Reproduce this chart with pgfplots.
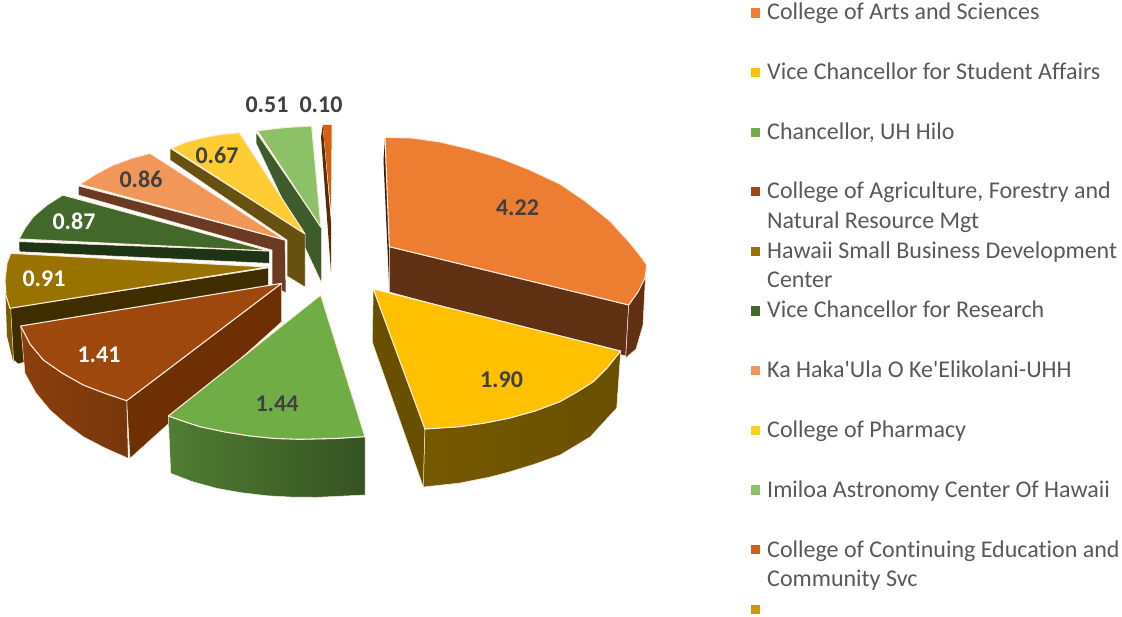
\documentclass[border=0pt]{standalone}
\usepackage{fontspec}
\setmainfont{Carlito}
\newfontfamily\keyfont{Carlito}[Ligatures=NoCommon]
\usepackage{pgfplots}
\pgfplotsset{compat=1.18}

\definecolor{cOrange}{HTML}{ED7D31}
\definecolor{wOrange}{HTML}{5F3012}
\definecolor{cYellow}{HTML}{FFC000}
\definecolor{wYellow}{HTML}{695000}
\definecolor{cGreen}{HTML}{70AD47}
\definecolor{cBrown}{HTML}{9E480E}
\definecolor{wBrown}{HTML}{6E2F05}
\definecolor{cOlive}{HTML}{997300}
\definecolor{wOlive}{HTML}{3F2D00}
\definecolor{cDark}{HTML}{43682B}
\definecolor{wDark}{HTML}{1F3315}
\definecolor{cSalmon}{HTML}{F1975A}
\definecolor{wSalmon}{HTML}{6B3A22}
\definecolor{cGold}{HTML}{FFCD33}
\definecolor{wGold}{HTML}{665110}
\definecolor{cLight}{HTML}{8CC168}
\definecolor{wLight}{HTML}{3E5C2B}
\definecolor{cRust}{HTML}{D26012}
\definecolor{wRust}{HTML}{5E2A06}
\definecolor{cMust}{HTML}{CC9A00}
\definecolor{edge}{HTML}{FBEBDC}
\definecolor{txt}{HTML}{595959}
\definecolor{lab}{HTML}{404040}

\tikzset{
    top/.style={draw=edge, line width=1.1pt, line join=round},
    wall/.style={draw=edge, line width=0.5pt, line join=round},
    key/.style={only marks, mark=square*, mark size=4.2pt},
    lbl/.style={anchor=base west, text=txt, font=\keyfont\fontsize{24}{28}\selectfont, inner sep=0pt},
}

\pgfplotstableread{
x y v
517.5 208 4.22
501.5 380 1.90
277 404 1.44
141 179 0.86
217 155 0.67
267 105 0.51
321 105 0.10
}\darklabels
\pgfplotstableread{
x y v
99 355 1.41
44 279 0.91
74 221 0.87
}\whitelabels

\begin{document}
\begin{tikzpicture}
\begin{axis}[
    scale only axis,
    width=1122pt, height=617pt,
    xmin=0, xmax=1122,
    ymin=0, ymax=617,
    y dir=reverse,
    hide axis,
    clip=false,
]
% page extent
\addplot[draw=none, fill=white] coordinates {(0,0) (1122,0) (1122,617) (0,617)} --cycle;

% rust 0.10
\addplot[draw=none, fill=wRust] coordinates {(321,137) (331,272) (331,222) (322.7,126)} --cycle;
\addplot[draw=none, fill=cRust] coordinates {(322.7,125) (331.7,125) (331,210)} --cycle;
% light green 0.51
\addplot[wall, fill=wLight] coordinates {(256,132) (256,143) (321.7,283) (321.7,228)} --cycle;
\addplot[top, fill=cLight] coordinates {(257.3,130.7) (285,127.5) (311.7,126) (321,227.3)} --cycle;
% gold 0.67
\addplot[wall, fill=wGold] coordinates {(170,148.3) (170,160) (287,240) (287,276) (305,287) (305,234)} --cycle;
\addplot[top, fill=cGold] coordinates {(171.7,148.3) (185,142.5) (200,138.5) (220,134.5) (239.3,132.7) (305,234)} --cycle;
% salmon 0.86
\addplot[wall, fill=wSalmon] coordinates {(78.3,186) (78.3,195) (272,250) (272,285) (286,293) (285,240)} --cycle;
\addplot[top, fill=cSalmon] coordinates {(80,184.3) (96,174) (113.3,165) (131,158.5) (150,153.3) (285,240)} --cycle;
% dark green 0.87
\addplot[wall, fill=wDark] coordinates {(19,241.7) (19.3,251.7) (269.3,263.3) (269.3,251)} --cycle;
\addplot[top, fill=cDark] coordinates {(19,239) (25,228) (33.3,216.7) (47,205) (62.7,195) (269.3,251)} --cycle;
% olive 0.91
\addplot[draw=none, fill=cOlive!80!black] coordinates {(5,280) (7,336) (13.3,362) (12,308)} --cycle;
\addplot[wall, fill=wOlive] coordinates {(10.7,308) (13.5,360) (18,364) (268.3,290) (268.3,268)} --cycle;
\addplot[top, fill=cOlive] coordinates {(10.7,253.3) (7,263) (5,280) (6,296) (10,308.3) (268.3,267)} --cycle;
% brown 1.41
\addplot[wall, fill=wBrown] coordinates {(281.7,283.3) (281.7,321.7) (130,458.3) (126.7,400.7)} --cycle;
\addplot[wall, left color=cBrown!88!black, right color=cBrown!75!black] coordinates {(20.7,326) (25,373.3) (36,393) (50,410) (66,424) (83.3,436.7) (105,448) (128.3,458.3) (126.7,400.7) (104,393) (83.3,385) (62,373) (43.3,360) (30,344)} --cycle;
\addplot[top, fill=cBrown] coordinates {(281.7,283.3) (20.7,326) (30,344) (43.3,360) (62,373) (83.3,385) (104,393) (126.7,400.7)} --cycle;
% green 1.44
\addplot[wall, left color=cGreen!72!black, right color=cGreen!48!black] coordinates {(168.3,416) (170.7,473.3) (192,481.5) (216.7,488.3) (240,492.5) (266.7,495.7) (290,497) (316.7,497.3) (365,495) (365,436.7) (335,438.5) (300,439.3) (275,438.5) (250,436) (225,432) (200,426.7) (184,421.5)} --cycle;
\addplot[top, fill=cGreen] coordinates {(320.7,295) (365,436.7) (335,438.5) (300,439.3) (275,438.5) (250,436) (225,432) (200,426.7) (184,421.5) (168.3,416)} --cycle;
% orange 4.22
\addplot[draw=none, fill=wRust!70!black] coordinates {(385,137.5) (383.5,160) (389.3,290) (389.3,247)} --cycle;
\addplot[wall, fill=wOrange] coordinates {(389.3,246.7) (389.3,292) (625.7,356) (628.7,305)} --cycle;
\addplot[wall, fill=wOrange] coordinates {(628.7,305) (625.7,358) (636,349) (643,325) (645,285) (646.7,265)} --cycle;
\addplot[top, fill=cOrange] coordinates {(385,137.3) (412,138) (440,142) (470,149) (500,158) (530,170) (560,184) (585,201) (610,221) (630,243) (642,258) (646.7,265) (645,278) (638,292) (628.7,305) (389.3,246.7)} --cycle;
% yellow 1.90
\addplot[wall, fill=wYellow] coordinates {(373.3,289) (372.3,342) (423.3,487) (425,429)} --cycle;
\addplot[wall, left color=wYellow!75!cOlive, right color=wYellow] coordinates {(425,429) (423.3,487) (460,483) (490,477) (510,471.7) (535,464) (560,455) (590,437) (616.7,408) (620.7,351) (607,368) (593.3,381.7) (577,392) (560,401.7) (535,411) (510,418) (485,423) (460,426.7)} --cycle;
\addplot[top, fill=cYellow] coordinates {(373.3,289) (620.7,351) (607,368) (593.3,381.7) (577,392) (560,401.7) (535,411) (510,418) (485,423) (460,426.7) (425,429)} --cycle;

% data labels
\addplot[no markers, draw=none, nodes near coords, point meta=explicit symbolic,
    every node near coord/.style={anchor=center, text=lab, font=\fontsize{24}{28}\selectfont\bfseries}]
    table[x=x, y=y, meta=v] {\darklabels};
\addplot[no markers, draw=none, nodes near coords, point meta=explicit symbolic,
    every node near coord/.style={anchor=center, text=white, font=\fontsize{24}{28}\selectfont\bfseries}]
    table[x=x, y=y, meta=v] {\whitelabels};

% legend
\addplot[key, cOrange] coordinates {(755,12.7)};
\addplot[key, cYellow] coordinates {(755,72)};
\addplot[key, cGreen] coordinates {(755,132)};
\addplot[key, cBrown] coordinates {(755,191.5)};
\addplot[key, cOlive] coordinates {(755,251)};
\addplot[key, cDark] coordinates {(755,310.7)};
\addplot[key, cSalmon] coordinates {(755,370)};
\addplot[key, cGold] coordinates {(755,430)};
\addplot[key, cLight] coordinates {(755,489.5)};
\addplot[key, cRust] coordinates {(755,549)};
\addplot[key, cMust] coordinates {(755,609)};

\node[lbl] at (axis cs:767,20) {College of Arts and Sciences};
\node[lbl] at (axis cs:767,80) {Vice Chancellor for Student Affairs};
\node[lbl] at (axis cs:767,140) {Chancellor, UH Hilo};
\node[lbl] at (axis cs:767,199) {College of Agriculture, Forestry and};
\node[lbl] at (axis cs:767,229) {Natural Resource Mgt};
\node[lbl] at (axis cs:767,259) {Hawaii Small Business Development};
\node[lbl] at (axis cs:767,288) {Center};
\node[lbl] at (axis cs:767,318) {Vice Chancellor for Research};
\node[lbl] at (axis cs:767,378) {Ka Haka'Ula O Ke'Elikolani-UHH};
\node[lbl] at (axis cs:767,438) {College of Pharmacy};
\node[lbl] at (axis cs:767,497) {Imiloa Astronomy Center Of Hawaii};
\node[lbl] at (axis cs:767,557) {College of Continuing Education and};
\node[lbl] at (axis cs:767,586) {Community Svc};
\end{axis}
\end{tikzpicture}
\end{document}
